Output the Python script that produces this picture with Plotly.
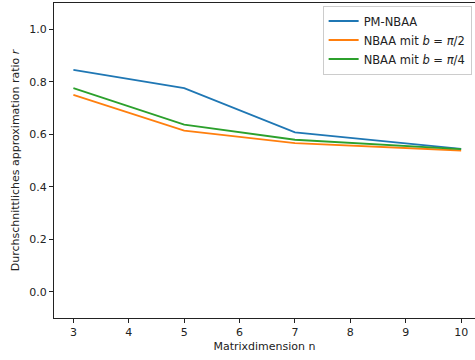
import plotly.graph_objects as go

# Matrix dimensions and averaged approximation ratios per method
n_values = [3, 5, 7, 10]
pm_nbaa = [0.845, 0.776, 0.607, 0.544]
nbaa_pi2 = [0.750, 0.614, 0.566, 0.538]
nbaa_pi4 = [0.776, 0.637, 0.579, 0.543]

series_names = ["PM-NBAA", "NBAA mit <i>b</i> = <i>π</i>/2", "NBAA mit <i>b</i> = <i>π</i>/4"]
series_colors = ["#1f77b4", "#ff7f0e", "#2ca02c"]

x_ticks = [3, 4, 5, 6, 7, 8, 9, 10]
y_ticks = [0.0, 0.2, 0.4, 0.6, 0.8, 1.0]

fig = go.Figure()
for name, values, color in zip(series_names, [pm_nbaa, nbaa_pi2, nbaa_pi4], series_colors):
    fig.add_trace(go.Scatter(
        x=n_values, y=values, mode="lines", name=name,
        line=dict(color=color, width=1.8),
    ))

font = dict(family="DejaVu Sans", size=11, color="#222222")

fig.update_layout(
    width=475, height=360,
    margin=dict(l=54, r=0, t=3, b=42),
    paper_bgcolor="white", plot_bgcolor="white",
    font=font,
    showlegend=True,
    legend=dict(
        x=0.992, y=0.992, xanchor="right", yanchor="top",
        bgcolor="rgba(255,255,255,0.8)", bordercolor="#cccccc", borderwidth=1,
        font=dict(family="DejaVu Sans", size=11.5, color="#222222"),
        tracegroupgap=2,
    ),
    xaxis=dict(
        range=[2.65, 10.25], tickvals=x_ticks, ticktext=[str(v) for v in x_ticks],
        showgrid=False, zeroline=False,
        showline=True, mirror=True, linecolor="#222222", linewidth=1,
        ticks="outside", ticklen=4, tickcolor="#222222",
        title=dict(text="Matrixdimension n", standoff=4, font=font),
    ),
    yaxis=dict(
        range=[-0.1, 1.1], tickvals=y_ticks, ticktext=[f"{v:.1f}" for v in y_ticks],
        showgrid=False, zeroline=False,
        showline=True, mirror=False, linecolor="#222222", linewidth=1,
        ticks="outside", ticklen=4, tickcolor="#222222",
        title=dict(text="Durchschnittliches approximation ratio <i>r</i>", standoff=7, font=font),
    ),
)

fig.write_html("out.html")
